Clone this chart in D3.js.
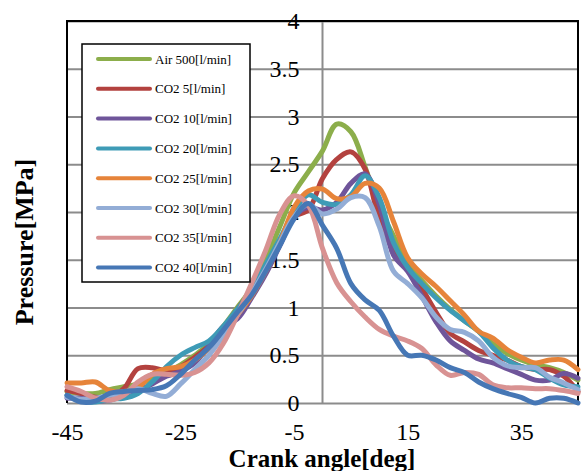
<!DOCTYPE html>
<html>
<head>
<meta charset="utf-8">
<script src="https://cdn.jsdelivr.net/npm/d3@7"></script>
<style>
  body { margin: 0; background: #fff; }
  svg { font-family: "Liberation Serif", "Times New Roman", serif; }
</style>
</head>
<body>
<svg id="chart" width="588" height="471"></svg>
<script>
// crank angle samples [deg]
var angles = [-45, -42.5, -40, -37.5, -35, -32.5, -30, -27.5, -25, -22.5, -20, -17.5, -15, -12.5, -10, -7.5, -5, -2.5,
    0, 2.5, 5, 7.5, 10, 12.5, 15, 17.5, 20, 22.5, 25, 27.5, 30, 32.5, 35, 37.5, 40, 42.5, 45];

var air500 = [0.12, 0.10, 0.10, 0.14, 0.17, 0.20, 0.25, 0.32, 0.40, 0.50, 0.62, 0.80, 1.00, 1.20, 1.50, 1.85, 2.20, 2.42,
    2.64, 2.92, 2.84, 2.47, 2.05, 1.75, 1.45, 1.28, 1.12, 0.98, 0.86, 0.75, 0.62, 0.52, 0.45, 0.40, 0.37, 0.32, 0.24];
var co2_5 = [0.13, 0.10, 0.06, 0.06, 0.15, 0.36, 0.37, 0.34, 0.38, 0.48, 0.60, 0.78, 0.98, 1.18, 1.42, 1.70, 1.95, 2.02,
    2.35, 2.55, 2.63, 2.45, 1.92, 1.60, 1.42, 1.20, 0.95, 0.73, 0.64, 0.55, 0.50, 0.45, 0.38, 0.35, 0.35, 0.28, 0.12];
var co2_10 = [0.05, 0.05, 0.02, 0.03, 0.08, 0.13, 0.20, 0.28, 0.33, 0.42, 0.60, 0.80, 0.88, 1.10, 1.35, 1.65, 1.95, 2.05,
    2.02, 2.10, 2.30, 2.40, 2.08, 1.55, 1.38, 1.12, 0.85, 0.65, 0.55, 0.46, 0.42, 0.36, 0.30, 0.24, 0.24, 0.31, 0.26];
var co2_20 = [0.08, 0.02, 0.01, 0.04, 0.05, 0.10, 0.22, 0.38, 0.50, 0.58, 0.65, 0.80, 0.98, 1.18, 1.45, 1.72, 2.00, 2.18,
    2.10, 2.08, 2.18, 2.38, 2.15, 1.68, 1.42, 1.25, 1.10, 0.97, 0.86, 0.75, 0.58, 0.45, 0.38, 0.35, 0.26, 0.19, 0.17];
var co2_25 = [0.21, 0.21, 0.22, 0.13, 0.12, 0.16, 0.30, 0.36, 0.38, 0.45, 0.57, 0.72, 0.92, 1.12, 1.38, 1.68, 2.05, 2.22,
    2.24, 2.14, 2.16, 2.30, 2.25, 1.90, 1.52, 1.35, 1.22, 1.07, 0.92, 0.75, 0.68, 0.56, 0.48, 0.42, 0.45, 0.45, 0.35];
var co2_30 = [0.06, 0.04, 0.05, 0.08, 0.10, 0.15, 0.10, 0.07, 0.20, 0.35, 0.50, 0.70, 0.92, 1.15, 1.40, 1.68, 1.95, 2.08,
    1.98, 2.03, 2.15, 2.15, 1.85, 1.38, 1.25, 1.10, 0.90, 0.77, 0.74, 0.65, 0.48, 0.39, 0.37, 0.37, 0.27, 0.21, 0.14];
var co2_35 = [0.17, 0.12, 0.05, 0.03, 0.08, 0.22, 0.30, 0.30, 0.29, 0.32, 0.42, 0.62, 0.92, 1.25, 1.60, 1.98, 2.17, 2.07,
    1.62, 1.26, 1.06, 0.90, 0.77, 0.70, 0.65, 0.57, 0.40, 0.29, 0.32, 0.30, 0.19, 0.16, 0.16, 0.15, 0.15, 0.13, 0.10];
var co2_40 = [0.08, 0.01, 0.02, 0.10, 0.12, 0.13, 0.14, 0.18, 0.30, 0.45, 0.58, 0.76, 0.95, 1.13, 1.38, 1.65, 1.93, 2.09,
    1.86, 1.62, 1.25, 1.08, 0.97, 0.70, 0.50, 0.50, 0.45, 0.37, 0.32, 0.22, 0.15, 0.10, 0.06, 0.00, 0.05, 0.05, 0.00];

var seriesNames = ["Air 500[l/min]", "CO2 5[l/min]", "CO2 10[l/min]", "CO2 20[l/min]",
    "CO2 25[l/min]", "CO2 30[l/min]", "CO2 35[l/min]", "CO2 40[l/min]"];
var seriesValues = [air500, co2_5, co2_10, co2_20, co2_25, co2_30, co2_35, co2_40];
var seriesColors = ["#8cae4b", "#b3423f", "#6f559a", "#3e9bb6", "#e6843a", "#93add6", "#d89292", "#4677b5"];

var xTicks = [-45, -25, -5, 15, 35];
var yTicks = [0, 0.5, 1, 1.5, 2, 2.5, 3, 3.5, 4];

var svg = d3.select("#chart");

var plotLeft = 67, plotRight = 578, plotTop = 21, plotBottom = 403;

var x = d3.scaleLinear().domain([-45, 45]).range([plotLeft, plotRight]);
var y = d3.scaleLinear().domain([0, 4]).range([plotBottom, plotTop]);

function plainLabel(d) { return String(d); }

// horizontal grid
svg.append("g")
    .attr("transform", "translate(" + plotLeft + ",0)")
    .call(d3.axisLeft(y).tickValues(yTicks).tickSize(-(plotRight - plotLeft)).tickFormat(""))
    .call(function (g) { g.select(".domain").remove(); })
    .selectAll("line")
    .attr("stroke", "#8c8c8c")
    .attr("stroke-width", 2);

// vertical line at 0 deg
svg.append("line")
    .attr("x1", x(0)).attr("x2", x(0))
    .attr("y1", plotTop).attr("y2", plotBottom)
    .attr("stroke", "#8c8c8c")
    .attr("stroke-width", 2);

// plot frame (left, top, right black)
svg.append("path")
    .attr("d", "M" + plotLeft + "," + plotBottom + "V" + plotTop + "H" + plotRight + "V" + plotBottom)
    .attr("fill", "none")
    .attr("stroke", "#000")
    .attr("stroke-width", 2);

// y tick labels sitting on the 0 deg line
var yAxis = svg.append("g")
    .attr("transform", "translate(" + x(0) + ",0)")
    .call(d3.axisLeft(y).tickValues(yTicks).tickSize(0).tickPadding(23).tickFormat(plainLabel));
yAxis.select(".domain").remove();
yAxis.selectAll("text")
    .style("font-family", "'Liberation Serif', serif")
    .style("font-size", "24px")
    .attr("fill", "#000");

// x tick labels
var xAxis = svg.append("g")
    .attr("transform", "translate(0," + plotBottom + ")")
    .call(d3.axisBottom(x).tickValues(xTicks).tickSize(0).tickPadding(20).tickFormat(plainLabel));
xAxis.select(".domain").remove();
xAxis.selectAll("text")
    .style("font-family", "'Liberation Serif', serif")
    .style("font-size", "24px")
    .attr("fill", "#000");

// curves
var line = d3.line()
    .x(function (d, i) { return x(angles[i]); })
    .y(function (d) { return y(d); })
    .curve(d3.curveCatmullRom.alpha(0.5));

svg.append("g")
    .selectAll("path")
    .data(seriesValues)
    .enter()
    .append("path")
    .attr("d", line)
    .attr("fill", "none")
    .attr("stroke", function (d, i) { return seriesColors[i]; })
    .attr("stroke-width", 5)
    .attr("stroke-linejoin", "round")
    .attr("stroke-linecap", "round");

// axis titles
svg.append("text")
    .attr("x", 322)
    .attr("y", 467)
    .attr("text-anchor", "middle")
    .style("font-size", "25px")
    .style("font-weight", "bold")
    .text("Crank angle[deg]");

svg.append("text")
    .attr("transform", "translate(33,242) rotate(-90)")
    .attr("text-anchor", "middle")
    .style("font-size", "26px")
    .style("font-weight", "bold")
    .text("Pressure[MPa]");

// legend
var legend = svg.append("g");
legend.append("rect")
    .attr("x", 82).attr("y", 44)
    .attr("width", 168).attr("height", 238)
    .attr("fill", "#fff")
    .attr("stroke", "#000")
    .attr("stroke-width", 1.5);

var rows = legend.selectAll("g.row")
    .data(seriesNames)
    .enter()
    .append("g")
    .attr("class", "row")
    .attr("transform", function (d, i) { return "translate(0," + (59 + i * 29.8) + ")"; });

rows.append("line")
    .attr("x1", 98).attr("x2", 150)
    .attr("stroke", function (d, i) { return seriesColors[i]; })
    .attr("stroke-width", 4)
    .attr("stroke-linecap", "round");

rows.append("text")
    .attr("x", 155)
    .attr("dy", "0.35em")
    .style("font-size", "13px")
    .text(function (d) { return d; });
</script>
</body>
</html>
